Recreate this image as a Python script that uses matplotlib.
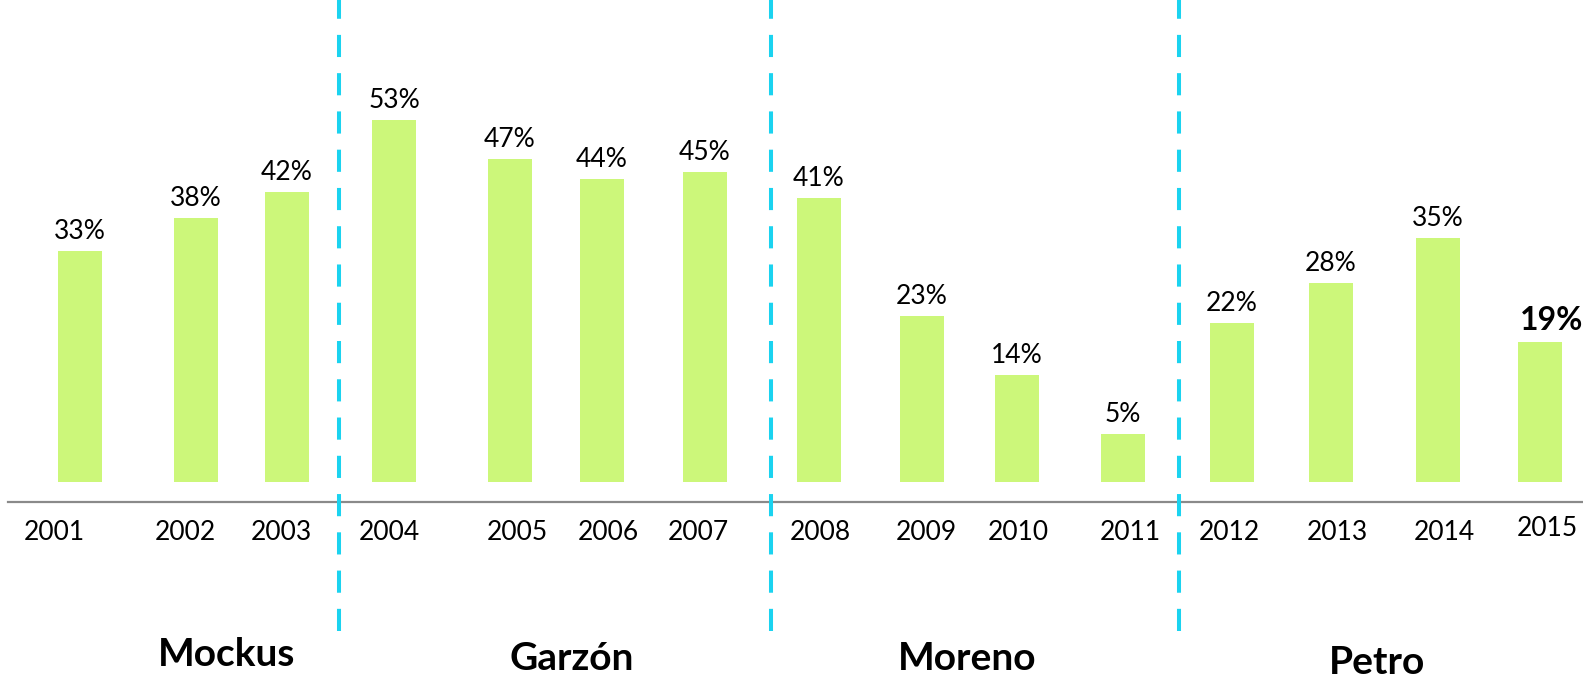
import matplotlib as mpl
mpl.use('Agg')
import matplotlib.pyplot as plt
import numpy as np

plt.rcParams['font.family'] = ['Lato', 'DejaVu Sans']

years = ['2001', '2002', '2003', '2004', '2005', '2006', '2007', '2008',
         '2009', '2010', '2011', '2012', '2013', '2014', '2015']
values = [33, 38, 42, 53, 47, 44, 45, 41, 23, 14, 5, 22, 28, 35, 19]
mayors = ['Mockus', 'Garzón', 'Moreno', 'Petro']

# layout (pixel columns of the 1583 px wide canvas)
W, H = 1583, 679
bar_x = [80, 196, 287, 394, 510, 602, 705, 819, 922, 1017, 1123, 1232, 1331, 1438, 1540]
year_x = [54, 185, 281, 389, 517, 608, 698, 820, 926, 1018, 1130, 1229, 1337, 1444, 1547]
year_y = [532] * 14 + [528]
split_x = [339, 771, 1179]
mayor_x = [227, 572, 967, 1377]
mayor_y = [654, 659, 659, 663]

BASE = -2.4      # bars rise from slightly below zero
AXIS_Y = -5.4
bar_color = '#CCF77A'
cyan = '#1BD3F0'

fig = plt.figure(figsize=(W / 100, H / 100), dpi=100)
ax = fig.add_axes([0, 0, 1, 1])
ax.set_xlim(0, W)
ax.set_ylim(-32.5, 71.35)
ax.axis('off')

vals = np.array(values, dtype=float)
ax.bar(bar_x, vals - BASE, bottom=BASE, width=44, color=bar_color, zorder=2)

ax.axhline(AXIS_Y, xmin=8 / W, xmax=1, color='#8a8a8a', lw=1.6, zorder=1)

for x in split_x:
    ax.plot([x, x], [-25.1, 71.35], color=cyan, lw=2.9,
            dashes=(5.5, 4), zorder=3)

for i, (x, v) in enumerate(zip(bar_x, values)):
    last = i == len(values) - 1
    ax.annotate(f'{v}%', (x + (12 if last else 0), v), xytext=(0, 5),
                textcoords='offset points', ha='center', va='bottom',
                fontsize=23 if last else 19,
                fontweight='bold' if last else 'normal', color='black')

for x, y, lab in zip(year_x, year_y, years):
    fig.text(x / W, 1 - y / H, lab, ha='center', va='center', fontsize=19)

for x, y, name in zip(mayor_x, mayor_y, mayors):
    fig.text(x / W, 1 - y / H, name, ha='center', va='center',
             fontsize=28, fontweight='bold')

plt.savefig('out.png', dpi=100)
